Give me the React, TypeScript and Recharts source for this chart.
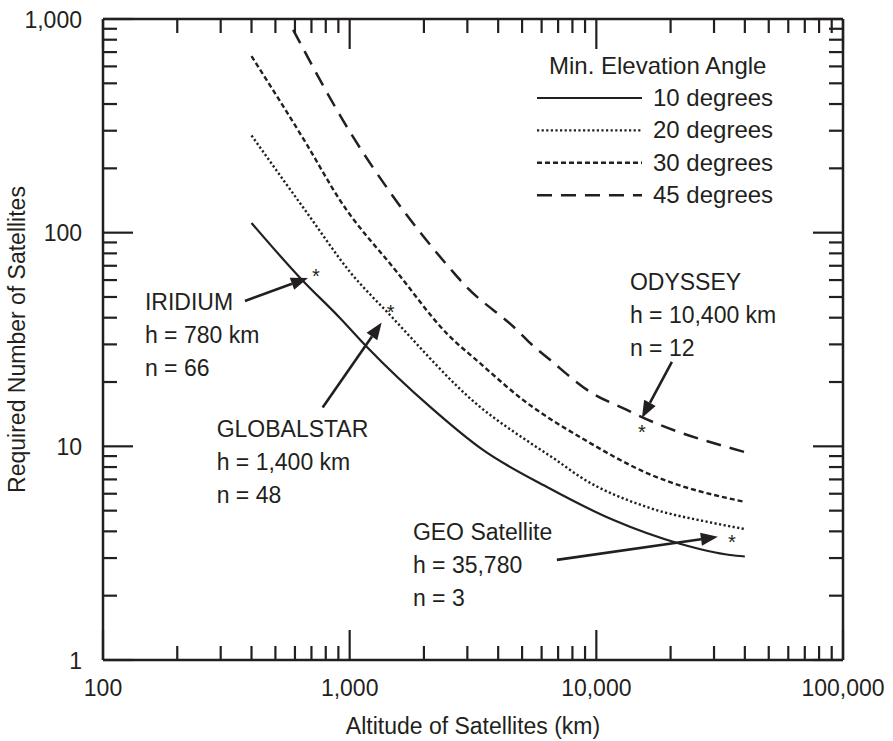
import React from 'react'
import { LineChart, Line, XAxis, YAxis, Legend, ReferenceDot } from 'recharts'

const INK = '#231f20'
const FONT = '"Liberation Sans", Arial, Helvetica, sans-serif'

// curves: altitude (km) vs required number of satellites
const alt10 = [400, 630, 913, 1175, 2120, 3470, 6310, 11670, 21800, 34800, 40000]
const sat10 = [111, 61.4, 39.9, 29.2, 15.3, 9.62, 6.45, 4.53, 3.5, 3.1, 3.05]

const alt20 = [400, 671, 1003, 1456, 3375, 5380, 6900, 8590, 16030, 29700, 40000]
const sat20 = [285, 124, 65.5, 41.2, 15.3, 10.4, 8.6, 7.2, 5.2, 4.38, 4.1]

const alt30 = [400, 671, 913, 1550, 2472, 3375, 5040, 9000, 16030, 37100, 40000]
const sat30 = [670, 258, 142, 65.7, 33.8, 24.5, 16.5, 10.7, 7.5, 5.6, 5.5]

const alt45 = [590, 1003, 1456, 2624, 2880, 4770, 5380, 6490, 9420, 13300, 15300, 40000]
const sat45 = [890, 296, 155, 65.5, 58, 35, 30.5, 25.4, 18, 14.8, 13.7, 9.4]

const seriesNames = ['10 degrees', '20 degrees', '30 degrees', '45 degrees']

// marked systems (where the asterisks sit on the figure)
const systemNames = ['IRIDIUM', 'GLOBALSTAR', 'ODYSSEY', 'GEO Satellite']
const systemAlt = [730, 1466, 15300, 35440]
const systemSat = [65.5, 44.6, 12.2, 3.73]
const systemInfo = [
  ['h = 780 km', 'n = 66'],
  ['h = 1,400 km', 'n = 48'],
  ['h = 10,400 km', 'n = 12'],
  ['h = 35,780', 'n = 3'],
]

const xTicks = [100, 200, 300, 400, 500, 600, 700, 800, 900, 1000, 2000, 3000, 4000, 5000, 6000, 7000, 8000, 9000, 10000, 20000, 30000, 40000, 50000, 60000, 70000, 80000, 90000, 100000]
const yTicks = [1, 2, 3, 4, 5, 6, 7, 8, 9, 10, 20, 30, 40, 50, 60, 70, 80, 90, 100, 200, 300, 400, 500, 600, 700, 800, 900, 1000]
const decades = [1, 10, 100, 1000, 10000, 100000]

const styles = [
  { strokeWidth: 2.2, strokeDasharray: undefined },
  { strokeWidth: 2.4, strokeDasharray: '2.2 2.4' },
  { strokeWidth: 2.4, strokeDasharray: '5 3' },
  { strokeWidth: 2.5, strokeDasharray: '15 9' },
]

// label/arrow layout in pixels relative to each asterisk
const layout = [
  { text: [-171, 38], tail: [-71, 29], tip: [-8, 6] },
  { text: [-174, 129], tail: [-68, 100], tip: [-9, 15] },
  { text: [-12, -138], tail: [30, -66], tip: [0, -10] },
  { text: [-319, 2], tail: [-175, 22], tip: [-14, -1] },
]

const allAlt = [alt10, alt20, alt30, alt45]
const allSat = [sat10, sat20, sat30, sat45]
const tables = allAlt.map((alt, k) => alt.map((x, i) => ({ x, y: allSat[k][i] })))

const fmt = (v: number) => v.toLocaleString('en-US')

function makeTick(side: 'bottom' | 'top' | 'left' | 'right') {
  return (p: any) => {
    const v = p.payload.value
    const major = decades.includes(v)
    const len = major ? 30 : 14
    const { x, y } = p
    let l = { x1: x, y1: y, x2: x, y2: y }
    if (side === 'bottom') l.y2 = y - len
    if (side === 'top') l.y2 = y + len
    if (side === 'left') l.x2 = x + len
    if (side === 'right') l.x2 = x - len
    return (
      <g>
        <line {...l} stroke={INK} strokeWidth={2.2} />
        {major && side === 'bottom' && (
          <text x={x} y={y + 36} textAnchor="middle" fontSize={23} fontFamily={FONT} fill={INK}>{fmt(v)}</text>
        )}
        {major && side === 'left' && (
          <text x={x - 21} y={y + 8.5} textAnchor="end" fontSize={23} fontFamily={FONT} fill={INK}>{fmt(v)}</text>
        )}
      </g>
    )
  }
}

function renderLegend(props: any) {
  const items = props.payload || []
  const ox = 520
  const oy = 45
  return (
    <svg width={300} height={180} style={{ display: 'block' }}>
      <text x={549 - ox} y={74 - oy} fontSize={24} fontFamily={FONT} fill={INK}>Min. Elevation Angle</text>
      {items.map((it: any, i: number) => {
        const by = 106 + i * 32.4 - oy
        return (
          <g key={it.value}>
            <line x1={537 - ox} x2={642 - ox} y1={by - 8} y2={by - 8} stroke={INK}
              strokeWidth={it.payload?.strokeWidth ?? 2} strokeDasharray={it.payload?.strokeDasharray} />
            <text x={653 - ox} y={by} fontSize={24} fontFamily={FONT} fill={INK}>{it.value}</text>
          </g>
        )
      })}
    </svg>
  )
}

function arrow(x1: number, y1: number, x2: number, y2: number) {
  const dx = x2 - x1
  const dy = y2 - y1
  const d = Math.hypot(dx, dy)
  const ux = dx / d
  const uy = dy / d
  const hl = 17
  const hw = 6.5
  const bx = x2 - ux * hl
  const by = y2 - uy * hl
  return (
    <g>
      <line x1={x1} y1={y1} x2={bx} y2={by} stroke={INK} strokeWidth={2.6} />
      <polygon points={`${x2},${y2} ${bx - uy * hw},${by + ux * hw} ${bx + uy * hw},${by - ux * hw}`} fill={INK} />
    </g>
  )
}

function makeMarker(k: number) {
  return (p: any) => {
    const { cx, cy } = p
    const lay = layout[k]
    const lines = [systemNames[k], ...systemInfo[k]]
    return (
      <g>
        <text x={cx} y={cy + 11} textAnchor="middle" fontSize={20} fontFamily={FONT} fill={INK}>*</text>
        {arrow(cx + lay.tail[0], cy + lay.tail[1], cx + lay.tip[0], cy + lay.tip[1])}
        {lines.map((t, i) => (
          <text key={i} x={cx + lay.text[0]} y={cy + lay.text[1] + i * 33} fontSize={23} fontFamily={FONT} fill={INK}>{t}</text>
        ))}
      </g>
    )
  }
}

export default function App() {
  return (
    <div style={{ position: 'absolute', left: 0, top: 0, width: 893, height: 741, background: '#fff' }}>
      <LineChart width={893} height={741} margin={{ top: 18, right: 49, bottom: 0, left: 0 }}>
        <XAxis xAxisId="b" orientation="bottom" dataKey="x" type="number" scale="log" domain={[100, 100000]}
          allowDataOverflow ticks={xTicks} interval={0} tickSize={0} tickMargin={0} tickLine={false}
          axisLine={{ stroke: INK, strokeWidth: 2.5 }} tick={makeTick('bottom')} height={81}
          label={{
            value: 'Altitude of Satellites (km)',
            content: (p: any) => (
              <text x={p.viewBox.x + p.viewBox.width / 2} y={p.viewBox.y + 74} textAnchor="middle"
                fontSize={23} fontFamily={FONT} fill={INK}>Altitude of Satellites (km)</text>
            ),
          }} />
        <XAxis xAxisId="t" orientation="top" dataKey="x" type="number" scale="log" domain={[100, 100000]}
          allowDataOverflow ticks={xTicks} interval={0} tickSize={0} tickMargin={0} tickLine={false}
          axisLine={{ stroke: INK, strokeWidth: 2.5 }} tick={makeTick('top')} height={1} />
        <YAxis yAxisId="l" orientation="left" type="number" scale="log" domain={[1, 1000]}
          allowDataOverflow ticks={yTicks} interval={0} tickSize={0} tickMargin={0} tickLine={false}
          axisLine={{ stroke: INK, strokeWidth: 2.5 }} tick={makeTick('left')} width={103}
          label={{
            value: 'Required Number of Satellites',
            content: (p: any) => {
              const cy = p.viewBox.y + p.viewBox.height / 2
              return (
                <text x={25} y={cy} transform={`rotate(-90, 25, ${cy})`} textAnchor="middle"
                  fontSize={23} fontFamily={FONT} fill={INK}>Required Number of Satellites</text>
              )
            },
          }} />
        <YAxis yAxisId="r" orientation="right" type="number" scale="log" domain={[1, 1000]}
          allowDataOverflow ticks={yTicks} interval={0} tickSize={0} tickMargin={0} tickLine={false}
          axisLine={{ stroke: INK, strokeWidth: 2.5 }} tick={makeTick('right')} width={1} />
        {tables.map((t, k) => (
          <Line key={seriesNames[k]} xAxisId="b" yAxisId="l" data={t} dataKey="y" name={seriesNames[k]}
            type="monotone" stroke={INK} strokeWidth={styles[k].strokeWidth}
            strokeDasharray={styles[k].strokeDasharray} dot={false} activeDot={false}
            isAnimationActive={false} />
        ))}
        {systemNames.map((n, k) => (
          <ReferenceDot key={n} xAxisId="b" yAxisId="l" x={systemAlt[k]} y={systemSat[k]} r={0}
            ifOverflow="visible" shape={makeMarker(k)} />
        ))}
        <Legend layout="horizontal" verticalAlign="middle" align="center" content={renderLegend}
          wrapperStyle={{ left: 520, top: 45, width: 300, height: 180 }} />
      </LineChart>
    </div>
  )
}
